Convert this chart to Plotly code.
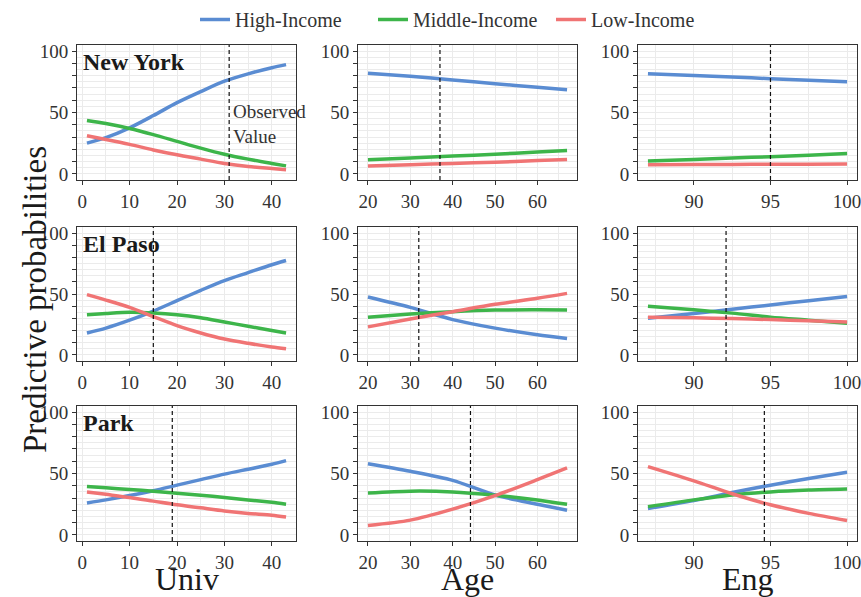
import plotly.graph_objects as go

# ---------------- data ----------------
series_names = ["High-Income", "Middle-Income", "Low-Income"]
series_colors = ["#5a8cd2", "#3db54a", "#f07474"]
row_labels = ["New York", "El Paso", "Park"]
col_titles = ["Univ", "Age", "Eng"]

univ_x = [1, 5, 10, 15, 20, 25, 30, 35, 40, 43]
age_x = [20, 30, 40, 50, 60, 67]
eng_x = [87, 90, 92.5, 95, 97.5, 100]

# New York
ny_univ_high = [25, 29.5, 37.5, 47.5, 58, 67, 75.5, 81.5, 86.5, 89]
ny_univ_mid = [43.5, 41, 37, 32, 26.5, 21, 16, 12, 8.5, 6.5]
ny_univ_low = [31, 28, 24, 19.5, 15.5, 12, 8.5, 6, 4.3, 3.3]
ny_age_high = [82, 79.5, 76.5, 73.5, 70.5, 68.5]
ny_age_mid = [11.5, 13, 14.5, 16, 17.8, 19]
ny_age_low = [6.5, 7.5, 8.5, 9.5, 10.8, 11.8]
ny_eng_high = [81.5, 80.2, 79, 77.5, 76.2, 75]
ny_eng_mid = [10.5, 11.8, 12.9, 14, 15.2, 16.5]
ny_eng_low = [7.5, 7.6, 7.7, 7.8, 7.9, 8]

# El Paso
ep_univ_high = [18, 22, 28.5, 36, 44.5, 53, 61, 67.5, 74, 77.5]
ep_univ_mid = [33, 34, 35, 34.5, 33, 30.5, 27, 23.5, 20, 18]
ep_univ_low = [49.5, 45, 39, 31.5, 24, 18, 13, 9.5, 6.5, 5]
ep_age_high = [47.5, 39, 29, 22, 16.5, 13.5]
ep_age_mid = [31, 33.5, 35.5, 36.8, 37, 36.8]
ep_age_low = [23, 29.5, 35.5, 41.5, 46.5, 50.5]
ep_eng_high = [30, 34, 37.5, 41, 44.5, 48]
ep_eng_mid = [40, 37, 34.3, 31, 28.5, 26]
ep_eng_low = [31, 30.5, 29.8, 29, 28, 27]

# Park
pk_univ_high = [26, 28.5, 32, 36, 40.5, 45, 49.5, 53.5, 57.5, 60.5]
pk_univ_mid = [39.5, 38.3, 37, 35.5, 34, 32.3, 30.5, 28.5, 26.5, 25]
pk_univ_low = [35, 33, 30.5, 27.5, 24.5, 22, 19.5, 17.5, 16, 14.5]
pk_age_high = [58, 51.8, 44.4, 32.5, 25, 20]
pk_age_mid = [34.1, 35.6, 35, 32.3, 28.5, 24.9]
pk_age_low = [7.6, 12, 21, 32, 45, 54.5]
pk_eng_high = [21.5, 28, 34.5, 40.5, 46, 51]
pk_eng_mid = [23, 28.5, 32.5, 35, 36.5, 37.3]
pk_eng_low = [55.6, 44, 33.5, 24.5, 17.5, 11.7]

# observed values (dashed lines)
ny_observed = [31, 37, 95]
ep_observed = [15, 32, 92.1]
pk_observed = [19, 44.2, 94.6]

univ_ticks = [0, 10, 20, 30, 40]
age_ticks = [20, 30, 40, 50, 60]
eng_ticks = [90, 95, 100]
y_ticks = [0, 10, 20, 30, 40, 50, 60, 70, 80, 90, 100]
y_ticklabels = ["0", "", "", "", "", "50", "", "", "", "", "100"]

panels = [
    [(ny_univ_high, ny_univ_mid, ny_univ_low), (ny_age_high, ny_age_mid, ny_age_low), (ny_eng_high, ny_eng_mid, ny_eng_low)],
    [(ep_univ_high, ep_univ_mid, ep_univ_low), (ep_age_high, ep_age_mid, ep_age_low), (ep_eng_high, ep_eng_mid, ep_eng_low)],
    [(pk_univ_high, pk_univ_mid, pk_univ_low), (pk_age_high, pk_age_mid, pk_age_low), (pk_eng_high, pk_eng_mid, pk_eng_low)],
]
observed = [ny_observed, ep_observed, pk_observed]
col_x = [univ_x, age_x, eng_x]
col_ticks = [univ_ticks, age_ticks, eng_ticks]
col_range = [[-1.1, 45.1], [17.65, 69.35], [86.35, 100.65]]
col_minor = [5, 5, 2.5]

# ---------------- layout geometry (pixels) ----------------
W, H = 861, 597
col_px = [(77, 296), (358, 577), (638, 857)]
row_px = [(45, 180), (227, 361), (406, 541)]

FONT = "Liberation Serif"
TXT = "#333333"
GRID = "#ebebeb"

fig = go.Figure()
layout = {}
shapes = []
annotations = []

for r in range(3):
    for c in range(3):
        k = r * 3 + c + 1
        xa = "x" if k == 1 else f"x{k}"
        ya = "y" if k == 1 else f"y{k}"
        for s in range(3):
            fig.add_trace(go.Scatter(
                x=col_x[c], y=panels[r][c][s], mode="lines",
                line=dict(color=series_colors[s], width=3.5, shape="spline", smoothing=0.8),
                name=series_names[s], legendgroup=series_names[s],
                showlegend=(k == 1), xaxis=xa, yaxis=ya, hoverinfo="skip"))
        x0, x1 = col_px[c]
        y0, y1 = row_px[r]
        layout["xaxis" if k == 1 else f"xaxis{k}"] = dict(
            domain=[x0 / W, x1 / W], anchor=ya, range=col_range[c],
            tickvals=col_ticks[c], ticks="outside", ticklen=4, tickcolor=TXT,
            tickfont=dict(family=FONT, size=19, color=TXT), ticklabeloverflow="allow",
            showgrid=True, gridcolor=GRID, gridwidth=1,
            minor=dict(dtick=col_minor[c], tick0=0, showgrid=True, gridcolor=GRID, ticks=""),
            showline=True, mirror=True, linecolor=TXT, linewidth=1, zeroline=False)
        layout["yaxis" if k == 1 else f"yaxis{k}"] = dict(
            domain=[1 - y1 / H, 1 - y0 / H], anchor=xa, range=[-5, 105],
            tickvals=y_ticks, ticktext=y_ticklabels, ticks="outside", ticklen=4, tickcolor=TXT,
            tickfont=dict(family=FONT, size=19, color=TXT), ticklabeloverflow="allow",
            showgrid=True, gridcolor=GRID, gridwidth=1,
            minor=dict(dtick=5, tick0=0, showgrid=True, gridcolor=GRID, ticks=""),
            showline=True, mirror=True, linecolor=TXT, linewidth=1, zeroline=False)
        shapes.append(dict(type="line", xref=xa, yref=f"{ya} domain",
                           x0=observed[r][c], x1=observed[r][c], y0=0, y1=1,
                           line=dict(color="#111111", width=1.2, dash="4px,3px")))
    annotations.append(dict(
        xref="x domain" if r == 0 else f"x{r*3+1} domain",
        yref="y domain" if r == 0 else f"y{r*3+1} domain",
        x=0.02, y=0.985, xanchor="left", yanchor="top", showarrow=False,
        text=f"<b>{row_labels[r]}</b>", font=dict(family=FONT, size=24, color="#1a1a1a")))

annotations.append(dict(xref="x", yref="y", x=ny_observed[0], y=41, xanchor="left", yanchor="middle",
                        xshift=2, align="left", showarrow=False, text="Observed<br>Value",
                        font=dict(family=FONT, size=19, color=TXT)))

for c in range(3):
    x0, x1 = col_px[c]
    annotations.append(dict(xref="paper", yref="paper", x=(x0 + x1) / 2 / W, y=1 - 579 / H,
                            xanchor="center", yanchor="middle", showarrow=False, text=col_titles[c],
                            font=dict(family=FONT, size=32, color="#1a1a1a")))

annotations.append(dict(xref="paper", yref="paper", x=35 / W, y=1 - 300 / H, xanchor="center",
                        yanchor="middle", textangle=-90, showarrow=False,
                        text="Predictive probabilities", font=dict(family=FONT, size=33, color="#1a1a1a")))

fig.update_layout(
    width=W, height=H, margin=dict(l=0, r=0, t=0, b=0, autoexpand=False),
    paper_bgcolor="white", plot_bgcolor="white",
    font=dict(family=FONT, color=TXT),
    legend=dict(orientation="h", x=195 / W, xanchor="left", y=1.0, yanchor="top",
                font=dict(family=FONT, size=20, color=TXT), itemwidth=30,
                entrywidth=133, entrywidthmode="pixels",
                bgcolor="rgba(0,0,0,0)"),
    shapes=shapes, annotations=annotations, **layout)

fig.write_html("out.html", config={"displayModeBar": False, "staticPlot": True},
               post_script="document.body.style.margin='0px';")
